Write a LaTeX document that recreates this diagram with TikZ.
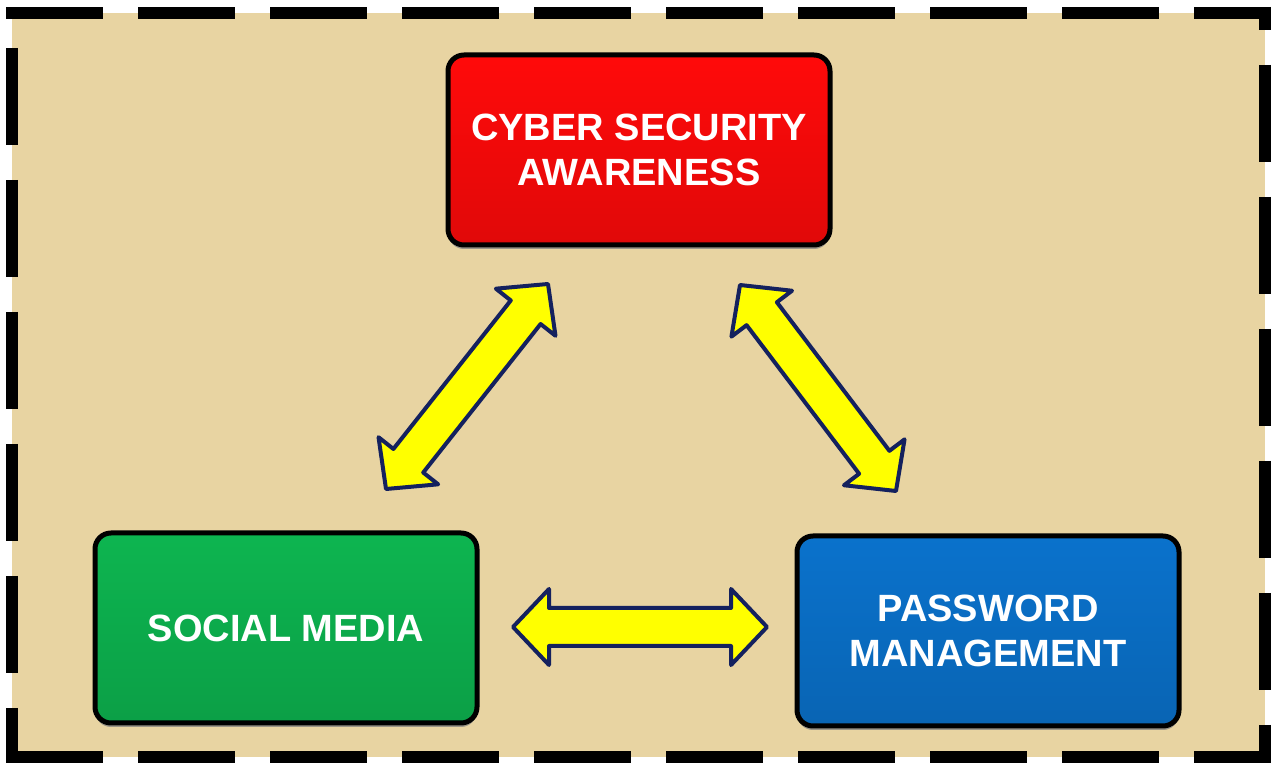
\documentclass[tikz,border=0pt]{standalone}
\usepackage{fontspec}
\setmainfont{Liberation Sans}
\usetikzlibrary{calc,shadows}
\definecolor{paper}{HTML}{E8D4A2}
\definecolor{cyberred}{HTML}{FF0A0A}
\definecolor{socialgreen}{HTML}{0DB550}
\definecolor{passblue}{HTML}{0A72CC}
\definecolor{arrowfill}{HTML}{FFFF00}
\definecolor{arrowline}{HTML}{14215E}
\tikzset{
  topic/.style={rounded corners=8pt, draw=black, line width=2.5pt,
    top color=#1, bottom color=#1!88!black,
    minimum width=191pt, minimum height=95pt, align=center, text=white,
    font=\fontsize{19}{22.5}\selectfont\bfseries,
    drop shadow={shadow xshift=0pt, shadow yshift=-2pt, opacity=.75}},
  arrowbody/.style={fill=arrowfill, draw=arrowline, line width=2pt, line join=round},
  frame/.style={line width=6pt, dash pattern=on 48.5pt off 17.5pt},
}
% double headed block arrow between two named points
\newcommand{\twoway}[2]{%
  \coordinate (#1h) at ($(#1)!18pt!(#2)$);
  \coordinate (#2h) at ($(#2)!18pt!(#1)$);
  \filldraw[arrowbody] (#1) -- ($(#1h)!19pt!90:(#2)$) -- ($(#1h)!9.5pt!90:(#2)$)
    -- ($(#2h)!9.5pt!-90:(#1)$) -- ($(#2h)!19pt!-90:(#1)$) -- (#2)
    -- ($(#2h)!19pt!90:(#1)$) -- ($(#2h)!9.5pt!90:(#1)$)
    -- ($(#1h)!9.5pt!-90:(#2)$) -- ($(#1h)!19pt!-90:(#2)$) -- cycle;
}
\begin{document}
\begin{tikzpicture}[x=0.5pt,y=-0.5pt]
    \useasboundingbox (0,0) rectangle (1274,763);
    \fill[paper] (12,13) rectangle (1265,757);
    \draw[frame] (6,13) -- (1271,13);
    \draw[frame, dash phase=48.5pt] (12,13) -- (12,763);
    \draw[frame, dash phase=37pt] (1265,7) -- (1265,763);
    \draw[frame] (6,757) -- (1271,757);

    \node[topic=cyberred] (cyber) at (639,150) {CYBER SECURITY\\AWARENESS};
    \node[topic=socialgreen] (social) at (286,628) {SOCIAL MEDIA};
    \node[topic=passblue] (password) at (988,631) {PASSWORD\\MANAGEMENT};

    \coordinate (sm1) at (386,489);
    \coordinate (cs1) at (548,284);
    \coordinate (cs2) at (740,285);
    \coordinate (pm1) at (896,491);
    \coordinate (sm2) at (513,627);
    \coordinate (pm2) at (767,627);
    \twoway{sm1}{cs1}
    \twoway{cs2}{pm1}
    \twoway{sm2}{pm2}
\end{tikzpicture}
\end{document}
